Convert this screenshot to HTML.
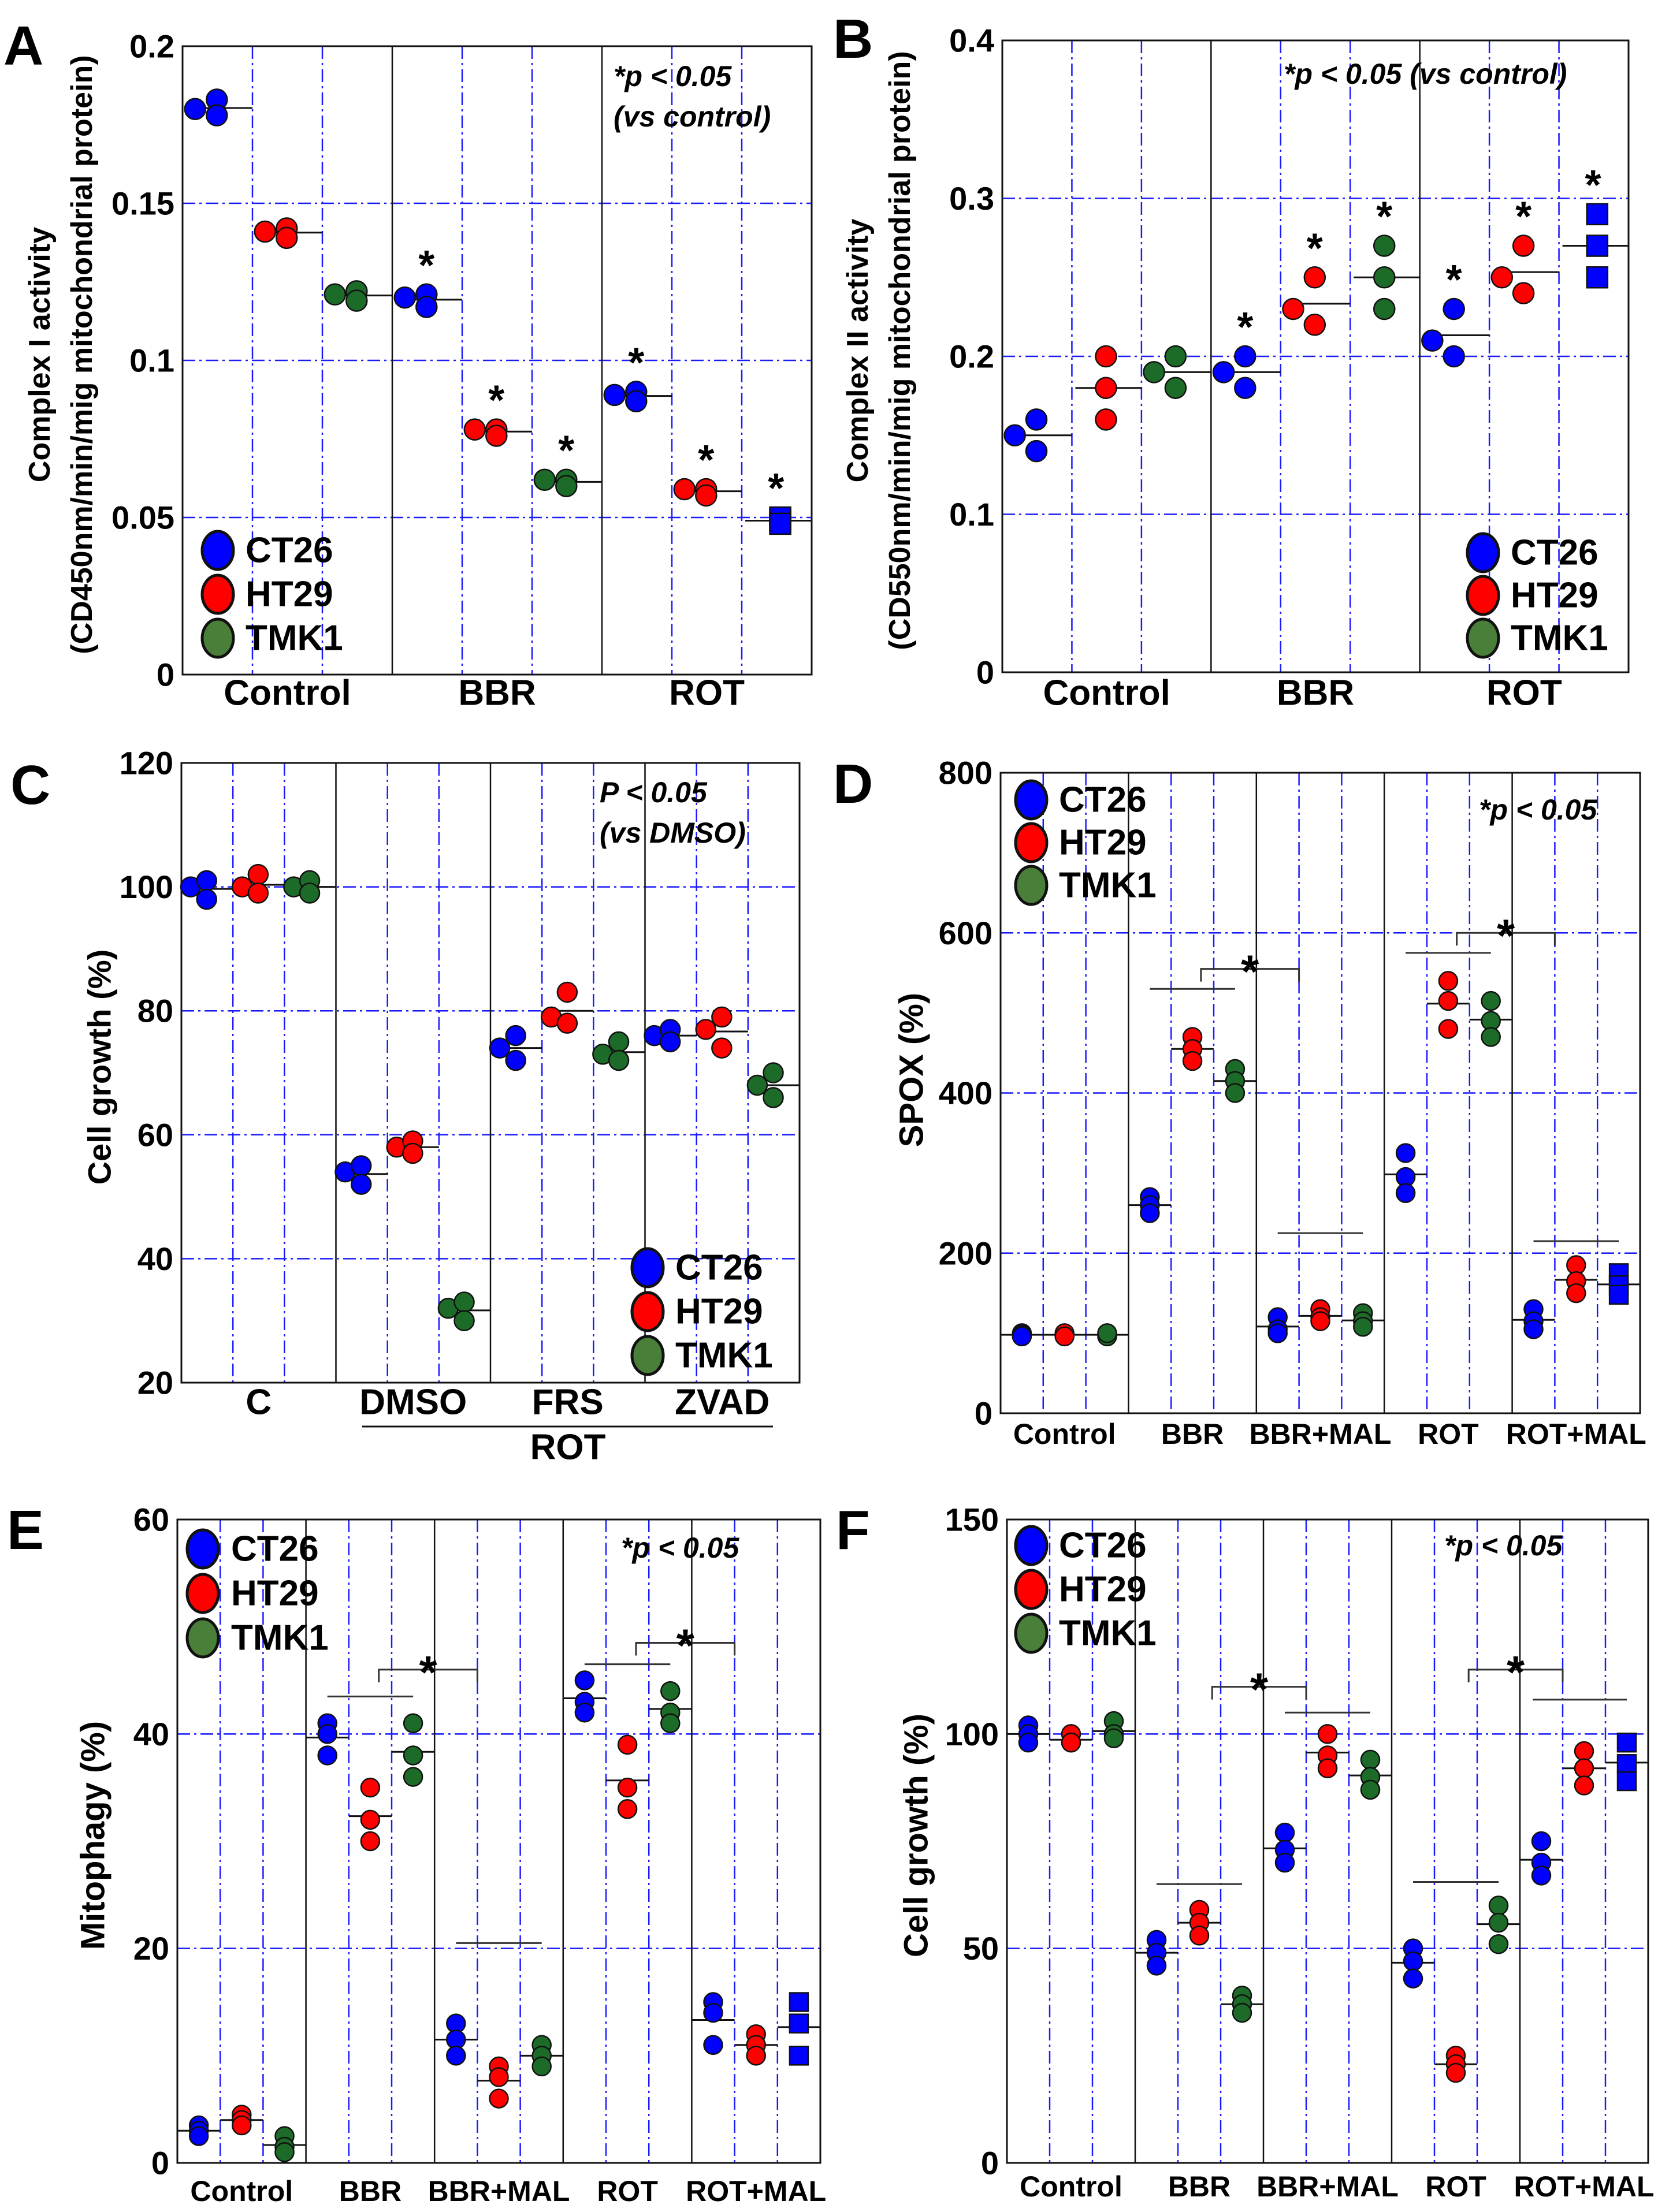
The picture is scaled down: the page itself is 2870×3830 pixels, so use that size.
<!DOCTYPE html>
<html><head><meta charset="utf-8">
<style>
html,body{margin:0;padding:0;background:#fff;}
svg{display:block;font-family:"Liberation Sans",Arial,sans-serif;font-weight:bold;}
</style></head>
<body>
<svg id="fig" width="2870" height="3830" viewBox="0 0 2870 3830" xmlns="http://www.w3.org/2000/svg"></svg>
<script>
// ---------- DATA ----------
// Panel A: Complex I activity; values per group [Control, BBR, ROT], 3 replicates each
const aGroups = ["Control","BBR","ROT"];
const aCT26 = [[0.180,0.183,0.178],[0.120,0.121,0.117],[0.089,0.090,0.087]];
const aHT29 = [[0.141,0.142,0.139],[0.078,0.078,0.076],[0.059,0.059,0.057]];
const aTMK1 = [[0.121,0.122,0.119],[0.062,0.062,0.060],[0.049,0.050,0.048]];
const aTicks = ["0","0.05","0.1","0.15","0.2"];
const aTickVals = [0,0.05,0.1,0.15,0.2];
// Panel B: Complex II activity
const bGroups = ["Control","BBR","ROT"];
const bCT26 = [[0.15,0.16,0.14],[0.19,0.20,0.18],[0.21,0.23,0.20]];
const bHT29 = [[0.20,0.18,0.16],[0.23,0.25,0.22],[0.25,0.27,0.24]];
const bTMK1 = [[0.19,0.20,0.18],[0.27,0.25,0.23],[0.29,0.27,0.25]];
const bTicks = ["0","0.1","0.2","0.3","0.4"];
const bTickVals = [0,0.1,0.2,0.3,0.4];
// Panel C: Cell growth
const cGroups = ["C","DMSO","FRS","ZVAD"];
const cCT26 = [[100,101,98],[54,55,52],[74,76,72],[76,77,75]];
const cHT29 = [[100,102,99],[58,59,57],[79,83,78],[77,79,74]];
const cTMK1 = [[100,101,99],[32,33,30],[73,75,72],[68,70,66]];
const cTicks = ["20","40","60","80","100","120"];
const cTickVals = [20,40,60,80,100,120];
// Panel D: SPOX
const dGroups = ["Control","BBR","BBR+MAL","ROT","ROT+MAL"];
const dCT26 = [[100,98,96],[270,260,250],[120,105,100],[325,295,275],[130,115,105]];
const dHT29 = [[98,100,96],[470,455,440],[130,120,115],[540,515,480],[185,165,150]];
const dTMK1 = [[98,96,100],[430,415,400],[125,115,108],[515,490,470],[175,160,148]];
const dTicks = ["0","200","400","600","800"];
const dTickVals = [0,200,400,600,800];
// Panel E: Mitophagy
const eGroups = ["Control","BBR","BBR+MAL","ROT","ROT+MAL"];
const eCT26 = [[3.5,3,2.5],[41,40,38],[13,11.5,10],[45,43,42],[15,14,11]];
const eHT29 = [[4.5,4,3.5],[35,32,30],[9,8,6],[39,35,33],[12,11,10]];
const eTMK1 = [[2.5,1.5,1],[41,38,36],[11,10,9],[44,42,41],[15,13,10]];
const eTicks = ["0","20","40","60"];
const eTickVals = [0,20,40,60];
// Panel F: Cell growth
const fGroups = ["Control","BBR","BBR+MAL","ROT","ROT+MAL"];
const fCT26 = [[102,100,98],[52,49,46],[77,73,70],[50,47,43],[75,70,67]];
const fHT29 = [[100,98,98],[59,56,53],[100,95,92],[25,23,21],[96,92,88]];
const fTMK1 = [[103,100,99],[39,37,35],[94,90,87],[60,56,51],[98,93,89]];
const fTicks = ["0","50","100","150"];
const fTickVals = [0,50,100,150];
// Annotation levels (value units); column positions in column units
const dBars = [[3.5,5.5,530],[6.5,8.5,225],[9.5,11.5,575],[12.5,14.5,215]];
const dBrackets = [[4.7,7.0,555],[10.7,13.0,600]];
const eBars = [[3.5,5.5,43.5],[6.5,8.5,20.5],[9.5,11.5,46.5]];
const eBrackets = [[4.7,7.0,46],[10.7,13.0,48.5]];
const fBars = [[3.5,5.5,65],[6.5,8.5,105],[9.5,11.5,65.5],[12.3,14.5,108]];
const fBrackets = [[4.8,7.0,111],[10.8,13.0,115]];

// ---------- DRAWING ----------
const NS="http://www.w3.org/2000/svg";
const svg=document.getElementById('fig');
function mk(tag,attrs,parent){const e=document.createElementNS(NS,tag);for(const k in attrs)e.setAttribute(k,attrs[k]);(parent||svg).appendChild(e);return e;}
const COL={CT26:"#0000ff",HT29:"#ff0000",TMK1:"#1d6b28"};
const LEGCOL={CT26:"#0000ff",HT29:"#ff0000",TMK1:"#4a7f3a"};
const GRID="#1a1aff";

function panel(p){
  const g=mk('g',{});
  
  
  const ncol=p.groups.length*3, cw=(p.R-p.L)/ncol;
  const y=v=>p.B-(v-p.ymin)/(p.ymax-p.ymin)*(p.B-p.T);
  const xc=c=>p.L+c*cw;
  // horizontal grid
  p.tickVals.forEach((v,i)=>{
    if(v>p.ymin && v<p.ymax){
      const l=mk('line',{x1:p.L,x2:p.R,y1:y(v),y2:y(v),stroke:GRID,'stroke-width':2.5,'stroke-dasharray':'22,7,4,7'},g);
      
      
    }
    const t=mk('text',{x:p.L-14,y:y(v),'text-anchor':'end','dominant-baseline':'central','font-size':p.tickFs||56},g);
    
    
    t.textContent=p.ticks[i];
  });
  // vertical lines
  for(let c=1;c<ncol;c++){
    const x=xc(c);
    if(c%3===0){
      const l=mk('line',{x1:x,x2:x,y1:p.T,y2:p.B,stroke:'#111','stroke-width':2.5},g);
      
      
    } else {
      const l=mk('line',{x1:x,x2:x,y1:p.T,y2:p.B,stroke:GRID,'stroke-width':2.5,'stroke-dasharray':'22,7,4,7'},g);
      
      
    }
  }
  // frame
  const fr=mk('rect',{x:p.L,y:p.T,width:p.R-p.L,height:p.B-p.T,fill:'none',stroke:'#111','stroke-width':3},g);
  
  
  // data
  const series=[["CT26",p.s1],["HT29",p.s2],["TMK1",p.s3]];
  p.groups.forEach((gn,gi)=>{
    series.forEach(([name,arr],si)=>{
      const c=gi*3+si, vals=arr[gi];
      const mean=(vals[0]+vals[1]+vals[2])/3;
      const left=xc(c), right=xc(c+1);
      const sq=p.square && gi===p.groups.length-1 && si===2;
      const fill=sq?COL.CT26:COL[name];
      const ml=mk('line',{x1:p.twoSlot?left+cw*0.05:left,x2:right,y1:y(mean),y2:y(mean),stroke:'#111','stroke-width':3},g);
      
      
      let top=1e9;
      vals.forEach((v,k)=>{
        let fx;
        if(p.twoSlot){
          const allCenter=p.centerCols&&p.centerCols.includes(c);
          fx=(k===0&&!allCenter&&!sq)?0.18:0.49;
          if(sq)fx=0.55;
        } else fx=0.5;
        const cx=left+cw*fx, cy=y(v);
        top=Math.min(top,cy);
        let m;
        if(sq){m=mk('rect',{x:cx-p.r,y:cy-p.r,width:2*p.r,height:2*p.r,fill:fill,stroke:'#111','stroke-width':2.5},g);}
        else {m=mk('circle',{cx:cx,cy:cy,r:p.r,fill:fill,stroke:'#111','stroke-width':2.5},g);}
        
        
      });
      if(p.stars && gi>0){
        const s=mk('text',{x:left+cw*0.49,y:top-p.r-8,'text-anchor':'middle','font-size':72},g);
        
        
        s.textContent='*';
      }
    });
    const gl=mk('text',{x:xc(gi*3+1.5),y:p.xlabY,'text-anchor':'middle','dominant-baseline':'central','font-size':p.xlabFs},g);
    
    
    gl.textContent=gn;
  });
  (p.bars||[]).forEach(b=>{
    const l=mk('line',{x1:xc(b[0]),x2:xc(b[1]),y1:y(b[2]),y2:y(b[2]),stroke:'#333','stroke-width':3},g);
    
    
  });
  (p.brackets||[]).forEach(b=>{
    const yy=y(b[2]);
    const pa=mk('path',{d:`M${xc(b[0])},${yy+22} V${yy} H${xc(b[1])} V${yy+22}`,fill:'none',stroke:'#333','stroke-width':3},g);
    
    
    const s=mk('text',{x:(xc(b[0])+xc(b[1]))/2,y:yy+32,'text-anchor':'middle','font-size':80},g);
    
    
    s.textContent='*';
  });
  // legend
  ["CT26","HT29","TMK1"].forEach((n,i)=>{
    const ly=p.leg[1]+i*p.leg[3];
    const e=mk('ellipse',{cx:p.leg[0],cy:ly,rx:27,ry:33,fill:LEGCOL[n],stroke:'#111','stroke-width':5},g);
    
    
    const t=mk('text',{x:p.leg[2],y:ly,'dominant-baseline':'central','font-size':62},g);
    
    
    t.textContent=n;
  });
  // y title
  p.ytitle.forEach((line,i)=>{
    const x=p.ytX[i], cy=(p.T+p.B)/2+(p.ytDy||0);
    const t=mk('text',{x:x,y:cy,transform:`rotate(-90 ${x} ${cy})`,'text-anchor':'middle','dominant-baseline':'central','font-size':p.ytFs},g);
    
    
    t.textContent=line;
  });
  // p-value note
  p.note.forEach((line,i)=>{
    const t=mk('text',{x:p.noteX,y:p.noteY+i*70,'dominant-baseline':'central','font-size':50,'font-style':'italic'},g);
    
    
    t.textContent=line;
  });
  const pl=mk('text',{x:p.letter[0],y:p.letter[1],'font-size':96},g);
  
  
  pl.textContent=p.id;
}

panel({id:'A',L:316,R:1405,T:80,B:1168,ymin:0,ymax:0.2,groups:aGroups,s1:aCT26,s2:aHT29,s3:aTMK1,ticks:aTicks,tickVals:aTickVals,
  r:18,twoSlot:true,square:true,stars:true,xlabY:1200,xlabFs:62,leg:[377,953,425,76],
  ytitle:["Complex I activity","(CD450nm/min/mig mitochondrial protein)"],ytX:[69,142],ytFs:52,ytDy:-10,
  note:["*p < 0.05","(vs control)"],noteX:1062,noteY:132,letter:[6,112]});
panel({id:'B',L:1735,R:2819,T:70,B:1164,ymin:0,ymax:0.4,groups:bGroups,s1:bCT26,s2:bHT29,s3:bTMK1,ticks:bTicks,tickVals:bTickVals,
  r:18,twoSlot:true,centerCols:[1,5],square:true,stars:true,xlabY:1200,xlabFs:62,leg:[2567,957,2615,74],
  ytitle:["Complex II activity","(CD550nm/min/mig mitochondrial protein)"],ytX:[1485,1558],ytFs:52,ytDy:-10,
  note:["*p < 0.05 (vs control)"],noteX:2222,noteY:128,letter:[1442,100]});
panel({id:'C',L:314,R:1384,T:1321,B:2394,ymin:20,ymax:120,groups:cGroups,s1:cCT26,s2:cHT29,s3:cTMK1,ticks:cTicks,tickVals:cTickVals,
  r:17,twoSlot:true,square:false,stars:false,xlabY:2428,xlabFs:62,leg:[1121,2195,1169,76],
  ytitle:["Cell growth (%)"],ytX:[172],ytFs:56,ytDy:-10,
  note:["P < 0.05","(vs DMSO)"],noteX:1038,noteY:1372,letter:[18,1392]});
panel({id:'D',L:1732,R:2839,T:1338,B:2447,ymin:0,ymax:800,groups:dGroups,s1:dCT26,s2:dHT29,s3:dTMK1,ticks:dTicks,tickVals:dTickVals,
  r:16,twoSlot:false,square:true,stars:false,xlabY:2483,xlabFs:50,leg:[1785,1385,1833,74],bars:dBars,brackets:dBrackets,
  ytitle:["SPOX (%)"],ytX:[1578],ytFs:58,ytDy:-40,
  note:["*p < 0.05"],noteX:2560,noteY:1402,letter:[1442,1390]});
panel({id:'E',L:307,R:1420,T:2631,B:3745,ymin:0,ymax:60,groups:eGroups,s1:eCT26,s2:eHT29,s3:eTMK1,ticks:eTicks,tickVals:eTickVals,
  r:16,twoSlot:false,square:true,stars:false,xlabY:3794,xlabFs:50,leg:[351,2682,400,77],bars:eBars,brackets:eBrackets,
  ytitle:["Mitophagy (%)"],ytX:[161],ytFs:58,ytDy:-10,
  note:["*p < 0.05"],noteX:1075,noteY:2680,letter:[12,2682]});
panel({id:'F',L:1743,R:2853,T:2631,B:3745,ymin:0,ymax:150,groups:fGroups,s1:fCT26,s2:fHT29,s3:fTMK1,ticks:fTicks,tickVals:fTickVals,
  r:16,twoSlot:false,square:true,stars:false,xlabY:3786,xlabFs:50,leg:[1785,2676,1833,76],bars:fBars,brackets:fBrackets,
  ytitle:["Cell growth (%)"],ytX:[1586],ytFs:58,ytDy:-10,
  note:["*p < 0.05"],noteX:2500,noteY:2676,letter:[1447,2682]});

// ROT underline in panel C
const rl=mk('line',{x1:627,x2:1338,y1:2470,y2:2470,stroke:'#111','stroke-width':3});


const rt=mk('text',{x:983,y:2506,'text-anchor':'middle','dominant-baseline':'central','font-size':62});


rt.textContent='ROT';
</script>
</body></html>
